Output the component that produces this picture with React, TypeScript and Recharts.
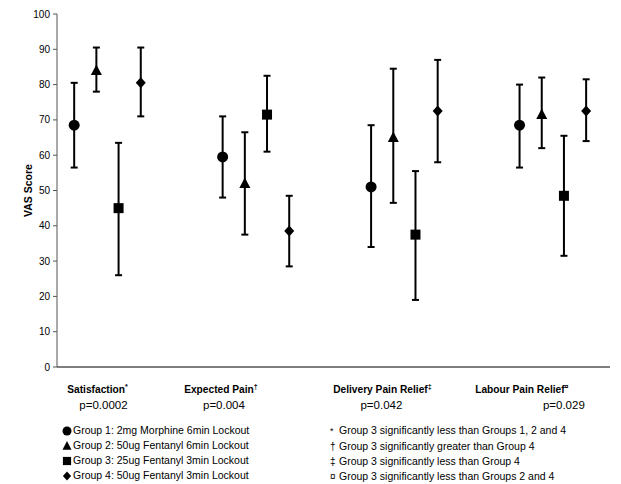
import React from 'react'
import {
  ScatterChart,
  Scatter,
  XAxis,
  YAxis,
  ErrorBar,
} from 'recharts'

// outcome categories along the x axis
const categories = ['Satisfaction', 'Expected Pain', 'Delivery Pain Relief', 'Labour Pain Relief']
const categoryMarks = ['*', '\u2020', '\u2021', '\u00a4']
const pValues = ['p=0.0002', 'p=0.004', 'p=0.042', 'p=0.029']

// mean VAS with lower / upper bar ends, one value per category
const g1Mean = [68.5, 59.5, 51, 68.5]
const g1Low = [56.5, 48, 34, 56.5]
const g1High = [80.5, 71, 68.5, 80]

const g2Mean = [84, 52, 65, 71.5]
const g2Low = [78, 37.5, 46.5, 62]
const g2High = [90.5, 66.5, 84.5, 82]

const g3Mean = [45, 71.5, 37.5, 48.5]
const g3Low = [26, 61, 19, 31.5]
const g3High = [63.5, 82.5, 55.5, 65.5]

const g4Mean = [80.5, 38.5, 72.5, 72.5]
const g4Low = [71, 28.5, 58, 64]
const g4High = [90.5, 48.5, 87, 81.5]

const yTicks = [0, 10, 20, 30, 40, 50, 60, 70, 80, 90, 100]

const groupNames = [
  'Group 1: 2mg Morphine 6min Lockout',
  'Group 2: 50ug Fentanyl 6min Lockout',
  'Group 3: 25ug Fentanyl 3min Lockout',
  'Group 4: 50ug Fentanyl 3min Lockout',
]
const footnotes = [
  'Group 3 significantly less than Groups 1, 2 and 4',
  'Group 3 significantly greater than Group 4',
  'Group 3 significantly less than Group 4',
  'Group 3 significantly less than Groups 2 and 4',
]

const FONT = '"Liberation Sans", Arial, sans-serif'
const DODGE = 0.1495
// label nudges (px) so the captions sit like the original
const labelDx = [-10, -35, -22, -31]
const pDx = [-4, -32, -23, 11]

function toPoints(mean: number[], low: number[], high: number[], slot: number) {
  return mean.map((m, i) => ({
    x: i + (slot - 1.5) * DODGE,
    y: m,
    err: [m - low[i], high[i] - m],
  }))
}

const series = [
  { key: 'g1', data: toPoints(g1Mean, g1Low, g1High, 0), shape: 'circle' },
  { key: 'g2', data: toPoints(g2Mean, g2Low, g2High, 1), shape: 'triangle' },
  { key: 'g3', data: toPoints(g3Mean, g3Low, g3High, 2), shape: 'square' },
  { key: 'g4', data: toPoints(g4Mean, g4Low, g4High, 3), shape: 'diamond' },
]

function Marker({ cx, cy, kind, s = 1 }: any) {
  if (cx == null || cy == null) return null
  if (kind === 'circle') return <circle cx={cx} cy={cy} r={5.5 * s} fill="#000" />
  if (kind === 'triangle')
    return (
      <polygon
        points={`${cx},${cy - 6 * s} ${cx + 5.5 * s},${cy + 4.5 * s} ${cx - 5.5 * s},${cy + 4.5 * s}`}
        fill="#000"
      />
    )
  if (kind === 'square') return <rect x={cx - 5 * s} y={cy - 5 * s} width={10 * s} height={10 * s} fill="#000" />
  return (
    <polygon
      points={`${cx},${cy - 5.5 * s} ${cx + 5 * s},${cy} ${cx},${cy + 5.5 * s} ${cx - 5 * s},${cy}`}
      fill="#000"
    />
  )
}

function LegendIcon({ kind }: { kind: string }) {
  return (
    <svg width={10} height={10} style={{ marginRight: 1, display: 'inline-block' }}>
      <Marker cx={5} cy={5} kind={kind} s={0.82} />
    </svg>
  )
}

function CategoryTick({ x, y, payload }: any) {
  const i = Math.round(payload.value)
  if (i < 0 || i > 3) return null
  return (
    <g>
      <text x={x + labelDx[i]} y={y + 24} textAnchor="middle" fontFamily={FONT} fontSize={10.2} fontWeight="bold" fill="#000">
        {categories[i]}
        <tspan fontSize={7} dy={-4}>{categoryMarks[i]}</tspan>
      </text>
      <text x={x + pDx[i]} y={y + 40} textAnchor="middle" fontFamily={FONT} fontSize={11.5} fill="#000">
        {pValues[i]}
      </text>
    </g>
  )
}

export default function App() {
  const shapes = ['circle', 'triangle', 'square', 'diamond']
  return (
    <div style={{ position: 'absolute', left: 0, top: 0, width: 621, height: 484, background: '#fff', fontFamily: FONT }}>
      <ScatterChart width={621} height={484} margin={{ top: 14, right: 11, bottom: 77, left: 0 }}>
        <XAxis
          type="number"
          dataKey="x"
          domain={[-0.34, 3.385]}
          ticks={[0, 1, 2, 3]}
          tick={<CategoryTick />}
          tickLine={false}
          tickSize={0}
          height={40}
          axisLine={{ stroke: '#000', strokeWidth: 1 }}
          allowDataOverflow
        />
        <YAxis
          type="number"
          dataKey="y"
          domain={[0, 100]}
          ticks={yTicks}
          width={57}
          tickSize={4}
          tickMargin={3}
          tickLine={{ stroke: '#555' }}
          axisLine={{ stroke: '#555', strokeWidth: 1 }}
          tick={{ fill: '#000', fontSize: 10, fontFamily: FONT }}
          label={{
            value: 'VAS Score',
            angle: -90,
            position: 'center',
            style: { fontFamily: FONT, fontSize: 10.5, fontWeight: 'bold', fill: '#000' },
          }}
        />
        {series.map((s) => (
          <Scatter
            key={s.key}
            data={s.data}
            isAnimationActive={false}
            shape={(p: any) => <Marker cx={p.cx} cy={p.cy} kind={s.shape} />}
          >
            <ErrorBar dataKey="err" direction="y" width={3.5} stroke="#000" strokeWidth={2} isAnimationActive={false} />
          </Scatter>
        ))}
      </ScatterChart>

      <div style={{ position: 'absolute', left: 62, top: 423, fontSize: 10.5, lineHeight: '15px', color: '#000' }}>
        {groupNames.map((g, i) => (
          <div key={g} style={{ display: 'flex', alignItems: 'center', whiteSpace: 'nowrap' }}>
            <LegendIcon kind={shapes[i]} />
            {g}
          </div>
        ))}
      </div>
      <div style={{ position: 'absolute', left: 330, top: 423, fontSize: 10.5, lineHeight: '15px', color: '#000' }}>
        {footnotes.map((f, i) => (
          <div key={f} style={{ whiteSpace: 'nowrap' }}>
            <span style={{ display: 'inline-block', width: 9, fontSize: i === 0 ? 9 : 10 }}>{categoryMarks[i]}</span>
            {f}
          </div>
        ))}
      </div>
    </div>
  )
}
